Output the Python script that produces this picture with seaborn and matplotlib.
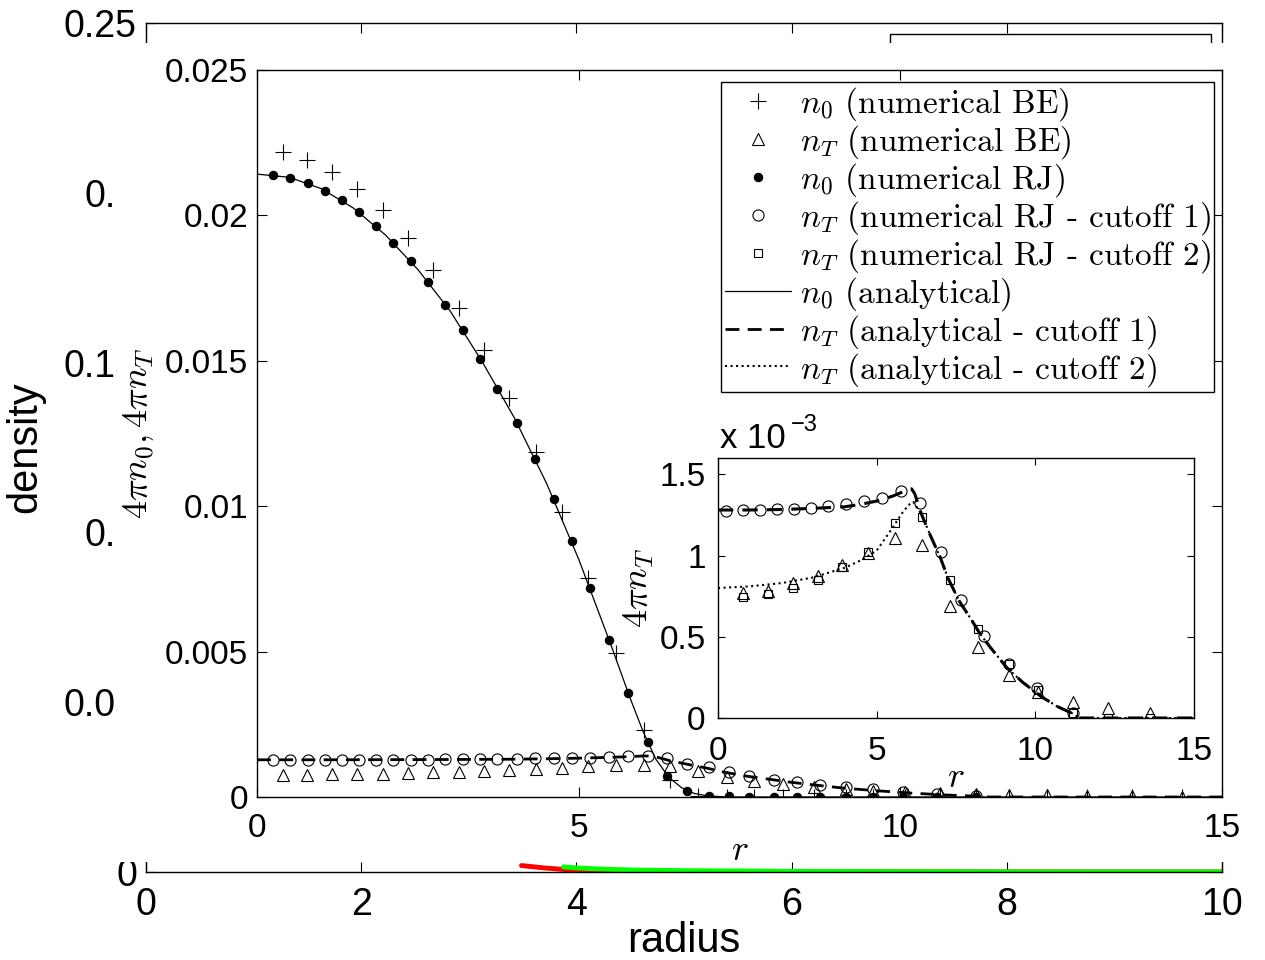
import numpy as np
import matplotlib
matplotlib.use("Agg")
import matplotlib.pyplot as plt
from matplotlib.patches import Rectangle
from matplotlib.ticker import FormatStrFormatter, FuncFormatter
import seaborn as sns

# ---- data ----
# background plot (density vs radius), only the tails show
r_red = [3.49, 3.7, 3.9, 4.1, 4.4, 5.0, 6.0, 8.0, 10.0]
dens_red = [0.0019, 0.0012, 0.0007, 0.0004, 0.0002, 0.0001, 0.00005, 0.00002, 0.00001]
r_green = [3.88, 4.0, 4.2, 4.5, 5.0, 5.5, 6.0, 7.0, 8.0, 9.0, 10.0]
dens_green = [0.0015, 0.0012, 0.0009, 0.0006, 0.0004, 0.0003, 0.0002, 0.0001, 0.00005, 0.00003, 0.00002]

# BE grid
r_be = [0.40, 0.78, 1.17, 1.56, 1.96, 2.35, 2.74, 3.14, 3.53, 3.92, 4.33, 4.74, 5.15, 5.58,
        6.01, 6.42, 6.86, 7.30, 7.72, 8.18, 8.66, 9.16, 9.58, 10.07, 10.62, 11.18, 11.69,
        12.28, 12.90, 13.60, 14.38]
n0_be = [0.02217, 0.02190, 0.02150, 0.02092, 0.02018, 0.01923, 0.01812, 0.01683, 0.01537,
         0.01372, 0.01187, 0.00981, 0.00752, 0.00494, 0.00230, 0.00058, 0.00004,
         0, 0, 0, 0, 0, 0, 0, 0, 0, 0, 0, 0, 0, 0]
nT_be = [0.76, 0.77, 0.775, 0.78, 0.80, 0.83, 0.85, 0.872, 0.90, 0.939, 0.975, 1.014, 1.06,
         1.11, 1.10, 1.065, 0.88, 0.689, 0.55, 0.435, 0.34, 0.262, 0.21, 0.16, 0.125, 0.099,
         0.075, 0.059, 0.04, 0.029, 0.015]  # x 1e-3

# RJ grid
r_rj = [0.25, 0.52, 0.79, 1.06, 1.32, 1.59, 1.85, 2.12, 2.39, 2.66, 2.93, 3.20, 3.47, 3.73,
        4.04, 4.32, 4.61, 4.89, 5.18, 5.47, 5.77, 6.07, 6.38, 6.68, 7.02, 7.33, 7.65, 8.03,
        8.39, 8.75, 9.16, 9.58, 10.04, 10.57, 11.18]
n0_rj = [0.02140, 0.02129, 0.02111, 0.02085, 0.02052, 0.02011, 0.01963, 0.01906, 0.01843,
         0.01772, 0.01693, 0.01605, 0.01507, 0.01402, 0.01287, 0.01161, 0.01026, 0.00879,
         0.00718, 0.00541, 0.00357, 0.00189, 0.00072, 0.00022, 0.00005, 0.00002,
         0, 0, 0, 0, 0, 0, 0, 0, 0]
nT_rj1 = [1.274, 1.277, 1.279, 1.279, 1.279, 1.282, 1.285, 1.285, 1.285, 1.289, 1.293, 1.298,
          1.305, 1.310, 1.317, 1.325, 1.333, 1.343, 1.354, 1.370, 1.394, 1.41, 1.325, 1.15,
          1.020, 0.87, 0.726, 0.60, 0.502, 0.41, 0.333, 0.26, 0.187, 0.11, 0.028]  # x 1e-3

# RJ cutoff 2 (inset only)
r_sq = [0.79, 1.56, 2.35, 3.14, 3.91, 4.74, 5.58, 6.42, 7.30, 8.18, 9.16, 10.07, 11.18, 12.28, 13.60]
nT_rj2 = [0.744, 0.764, 0.801, 0.852, 0.927, 1.024, 1.203, 1.238, 0.852, 0.547, 0.333, 0.171,
          0.029, 0.0, 0.0]  # x 1e-3

# analytical curves
r_an0 = [0, 0.5, 1.0, 1.5, 2.0, 2.5, 3.0, 3.5, 4.0, 4.5, 5.0, 5.5, 5.8, 6.0, 6.2, 6.4, 6.6,
         6.8, 7.0, 7.3, 15]
n0_an = [0.02142, 0.02131, 0.02092, 0.02025, 0.01932, 0.01814, 0.01672, 0.01497, 0.01304,
         0.01079, 0.00818, 0.00524, 0.00340, 0.00226, 0.00130, 0.00068, 0.00032, 0.00012,
         0.00004, 0.0, 0.0]
r_an1 = [0, 1, 2, 3, 3.5, 4, 4.5, 5, 5.5, 5.8, 6.0, 6.1, 6.2, 6.4, 6.7, 7.0, 7.25, 7.6, 8.0,
         8.25, 8.6, 9.1, 9.6, 10.2, 10.7, 11.15, 11.4, 15]
nT_an1 = [1.28, 1.28, 1.283, 1.29, 1.295, 1.30, 1.315, 1.335, 1.365, 1.39, 1.41, 1.41, 1.38,
          1.26, 1.12, 0.99, 0.86, 0.72, 0.60, 0.52, 0.43, 0.31, 0.22, 0.13, 0.07, 0.03, 0.0, 0.0]
r_an2 = [0, 1, 2, 3, 4, 4.5, 5, 5.5, 5.8, 6.0, 6.15, 6.4, 6.7, 7.0, 7.25, 7.6, 8.0, 8.25,
         8.6, 9.1, 9.6, 10.2, 10.7, 11.15, 11.4, 15]
nT_an2 = [0.80, 0.81, 0.83, 0.865, 0.925, 0.97, 1.03, 1.17, 1.26, 1.31, 1.33, 1.26, 1.12,
          0.99, 0.86, 0.72, 0.60, 0.52, 0.43, 0.31, 0.22, 0.13, 0.07, 0.03, 0.0, 0.0]

labels = [r"$n_0$ (numerical BE)", r"$n_T$ (numerical BE)", r"$n_0$ (numerical RJ)",
          r"$n_T$ (numerical RJ - cutoff 1)", r"$n_T$ (numerical RJ - cutoff 2)",
          r"$n_0$ (analytical)", r"$n_T$ (analytical - cutoff 1)",
          r"$n_T$ (analytical - cutoff 2)"]

# ---- style ----
sns.set_theme(style="white")
plt.rcParams['font.family'] = ['Liberation Sans', 'DejaVu Sans']
plt.rcParams['mathtext.fontset'] = 'cm'
plt.rcParams['axes.edgecolor'] = 'black'
plt.rcParams['axes.labelcolor'] = 'black'
plt.rcParams['text.color'] = 'black'
plt.rcParams['xtick.color'] = 'black'
plt.rcParams['ytick.color'] = 'black'

W, H = 1265, 960
fig = plt.figure(figsize=(W / 100, H / 100), dpi=100)


def box(l, t, r, b):
    return [l / W, 1 - b / H, (r - l) / W, (b - t) / H]


def ticks(ax, size, length, xpad, ypad):
    ax.tick_params(axis='both', which='both', direction='in', top=True, right=True,
                   bottom=True, left=True, length=length, width=0.8, labelsize=size)
    ax.tick_params(axis='x', pad=xpad)
    ax.tick_params(axis='y', pad=ypad)
    for s in ax.spines.values():
        s.set_linewidth(1.0)
        s.set_color('black')


def pts(ax, x, y, marker, size, fill='none', **kw):
    sns.lineplot(x=x, y=y, ax=ax, marker=marker, linestyle='', markersize=size,
                 markerfacecolor=fill, markeredgecolor='black', markeredgewidth=0.8,
                 color='black', **kw)
    return ax.lines[-1]


# background axes
ax_bg = fig.add_axes(box(146, 23, 1222, 872))
ax_bg.set_zorder(0)
sns.lineplot(x=r_red, y=dens_red, ax=ax_bg, color='red', lw=3.5)
sns.lineplot(x=r_green, y=dens_green, ax=ax_bg, color='lime', lw=3.5)
ax_bg.set_xlim(0, 10)
ax_bg.set_ylim(0, 0.25)
ax_bg.set_xticks(np.arange(0, 11, 2))
ax_bg.set_yticks(np.arange(0, 0.26, 0.05))
ax_bg.yaxis.set_major_formatter(FormatStrFormatter('%g'))
ticks(ax_bg, 27, 7, 11, 6.5)
ax_bg.set_xlabel('radius', fontsize=30)
ax_bg.set_ylabel('density', fontsize=30)
ax_bg.xaxis.set_label_coords(0.5, -0.058)
ax_bg.yaxis.set_label_coords(-0.094, 0.5)
ax_bg.add_patch(Rectangle((0.6914, 0.85), 0.2984, 0.137, transform=ax_bg.transAxes,
                          fc='white', ec='black', lw=1.0))

# white sheet pasted over it
fig.add_artist(Rectangle((117 / W, 1 - 862 / H), (W - 117) / W, (862 - 43) / H,
                         transform=fig.transFigure, fc='white', ec='none', zorder=1))

# main axes
ax = fig.add_axes(box(257, 70, 1222, 797))
ax.set_zorder(2)
ax.set_facecolor('white')
sns.lineplot(x=r_an0, y=n0_an, ax=ax, color='black', lw=0.9)
l_an0 = ax.lines[-1]
sns.lineplot(x=r_an1, y=np.array(nT_an1) * 1e-3, ax=ax, color='black', lw=2.0)
ax.lines[-1].set_dashes((5, 3))
l_an1 = ax.lines[-1]
l_be0 = pts(ax, r_be, n0_be, '+', 11)
l_beT = pts(ax, r_be, np.array(nT_be) * 1e-3, '^', 8)
l_rj0 = pts(ax, r_rj, n0_rj, 'o', 6, fill='black')
l_rj1 = pts(ax, r_rj, np.array(nT_rj1) * 1e-3, 'o', 8)
ax.set_xlim(0, 15)
ax.set_ylim(0, 0.025)
ax.set_xticks([0, 5, 10, 15])
ax.set_yticks(np.arange(0, 0.0251, 0.005))
ax.yaxis.set_major_formatter(FormatStrFormatter('%g'))
ticks(ax, 24, 7, 11.5, 6.5)
ax.set_xlabel(r"$r$", fontsize=26)
ax.set_ylabel(r"$4\pi n_0, 4\pi n_T$", fontsize=26)
ax.xaxis.set_label_coords(0.5, -0.05)
ax.yaxis.set_label_coords(-0.105, 0.5)

# inset
ax_in = fig.add_axes(box(718, 458, 1194, 718))
ax_in.set_zorder(3)
ax_in.set_facecolor('white')
sns.lineplot(x=r_an2, y=np.array(nT_an2) * 1e-3, ax=ax_in, color='black', lw=1.5)
ax_in.lines[-1].set_linestyle(':')
l_an2 = ax_in.lines[-1]
sns.lineplot(x=r_an1, y=np.array(nT_an1) * 1e-3, ax=ax_in, color='black', lw=2.2)
ax_in.lines[-1].set_dashes((5, 3))
pts(ax_in, r_rj[::2], np.array(nT_rj1[::2]) * 1e-3, 'o', 8)
pts(ax_in, r_be[1::2], np.array(nT_be[1::2]) * 1e-3, '^', 9)
l_rj2 = pts(ax_in, r_sq, np.array(nT_rj2) * 1e-3, 's', 6)
ax_in.set_xlim(0, 15)
ax_in.set_ylim(0, 0.0016)
ax_in.set_xticks([0, 5, 10, 15])
ax_in.set_yticks([0, 0.0005, 0.001, 0.0015])
ax_in.yaxis.set_major_formatter(FuncFormatter(lambda v, p: '%g' % round(v * 1e3, 3)))
ticks(ax_in, 24, 5, 13, 9)
ax_in.set_xlabel(r"$r$", fontsize=26)
ax_in.set_ylabel(r"$4\pi n_T$", fontsize=26)
ax_in.xaxis.set_label_coords(0.5, -0.16)
ax_in.yaxis.set_label_coords(-0.13, 0.5)
ax_in.text(0.005, 1.01, 'x 10', transform=ax_in.transAxes, fontsize=25, ha='left', va='bottom')
ax_in.text(0.153, 1.085, '\u22123', transform=ax_in.transAxes, fontsize=17, ha='left',
           va='bottom')

# legend
handles = [l_be0, l_beT, l_rj0, l_rj1, l_rj2, l_an0, l_an1, l_an2]
leg = ax.legend(handles, labels, loc='upper right', bbox_to_anchor=(1214 / W, 1 - 82 / H),
                bbox_transform=fig.transFigure, borderaxespad=0, frameon=True, fancybox=False,
                framealpha=1, edgecolor='black', prop={'family': 'cmr10', 'size': 24},
                handlelength=2.0, handletextpad=0.25, labelspacing=0.0, borderpad=0.1,
                numpoints=1)
leg.get_frame().set_linewidth(1.0)

fig.savefig('out.png', dpi=100)
